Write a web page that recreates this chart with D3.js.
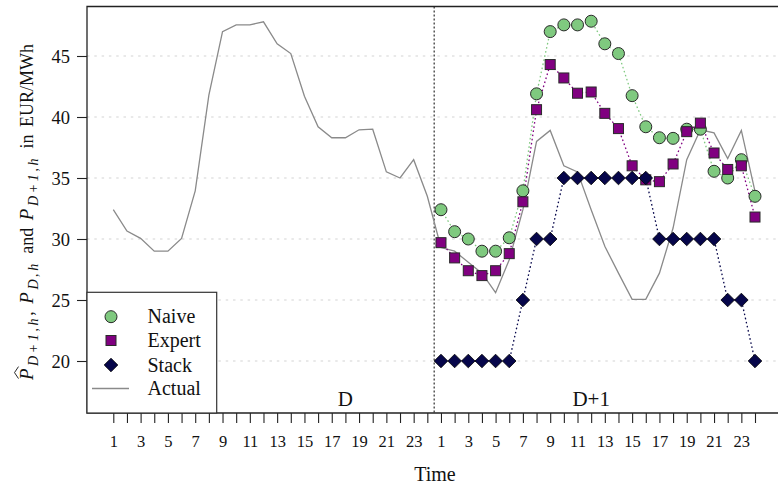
<!DOCTYPE html>
<html>
<head>
<meta charset="utf-8">
<script src="https://cdn.jsdelivr.net/npm/d3@7"></script>
<style>
  html, body { margin: 0; padding: 0; background: #fff; }
  svg { display: block; font-family: "Liberation Serif", "DejaVu Serif", serif; }
</style>
</head>
<body>
<svg id="chart" width="778" height="485"></svg>
<script>
// Hourly prices: day D actual, day D+1 actual and the three D+1 forecasts
const hoursPerDay = 24;
const actualD  = [32.4, 30.65, 30.05, 29.0, 29.0, 30.05, 33.95, 41.8, 47.0, 47.55, 47.55, 47.8,
                  46.0, 45.2, 41.7, 39.2, 38.3, 38.3, 38.95, 39.0, 35.5, 35.0, 36.5, 33.5];
const actualD1 = [29.3, 29.0, 28.1, 27.2, 25.6, 28.3, 32.4, 38.0, 38.9, 36.0, 35.5, 32.4,
                  29.4, 27.2, 25.05, 25.05, 27.2, 30.9, 36.5, 38.95, 38.7, 36.6, 38.9, 33.9];
const naive    = [32.4, 30.6, 30.0, 29.0, 29.0, 30.1, 33.95, 41.9, 47.0, 47.55, 47.55, 47.85,
                  46.0, 45.2, 41.75, 39.2, 38.3, 38.25, 39.0, 39.0, 35.55, 35.0, 36.5, 33.5];
const expert   = [29.7, 28.45, 27.4, 27.0, 27.4, 28.8, 33.05, 40.6, 44.3, 43.2, 41.95, 42.05,
                  40.3, 39.05, 36.0, 34.85, 34.7, 36.15, 38.8, 39.5, 37.05, 35.7, 36.0, 31.8];
const stack    = [20, 20, 20, 20, 20, 20, 25, 30, 30, 35, 35, 35,
                  35, 35, 35, 35, 30, 30, 30, 30, 30, 25, 25, 20];
const yTicks = [20, 25, 30, 35, 40, 45];
const dayLabels = ["D", "D+1"];
const seriesNames = ["Naive", "Expert", "Stack", "Actual"];

const colors = { naive: "#7fc97f", expert: "#800080", stack: "#06064a", actual: "#8a8a8a" };

const svg = d3.select("#chart");
const frame = { left: 87, right: 778, top: 6.5, bottom: 413 };

const x = d3.scaleLinear().domain([1, 48]).range([113.3, 755]);
const y = d3.scaleLinear().domain([20, 45]).range([361, 56]);

// horizontal dotted grid
svg.append("g").selectAll("line").data(yTicks).join("line")
  .attr("x1", frame.left).attr("x2", frame.right)
  .attr("y1", d => y(d)).attr("y2", d => y(d))
  .attr("stroke", "#d4d4d4").attr("stroke-width", 1.2)
  .attr("stroke-dasharray", "2.5,4.8");

// day boundary
svg.append("line")
  .attr("x1", x(24.5)).attr("x2", x(24.5))
  .attr("y1", frame.top).attr("y2", frame.bottom)
  .attr("stroke", "#000").attr("stroke-width", 1)
  .attr("stroke-dasharray", "2,2");

// frame lines (top, left, bottom)
svg.append("path")
  .attr("d", `M${frame.right},${frame.top}H${frame.left}V${frame.bottom}H${frame.right}`)
  .attr("fill", "none").attr("stroke", "#222").attr("stroke-width", 1.3);

// axes
const allHours = d3.range(1, 49);
const xAxis = d3.axisBottom(x)
  .tickValues(allHours)
  .tickSize(10).tickSizeOuter(0)
  .tickFormat(i => { const h = (i - 1) % hoursPerDay + 1; return h % 2 === 1 ? String(h) : ""; });
const gx = svg.append("g").attr("transform", `translate(0,${frame.bottom})`).call(xAxis);
gx.select(".domain").remove();
gx.selectAll(".tick line").attr("stroke", "#222").attr("stroke-width", 1.1);
gx.selectAll(".tick text").attr("y", 34).attr("dy", 0)
  .attr("font-size", 16.5).attr("font-family", "Liberation Serif, serif").attr("fill", "#111");

const yAxis = d3.axisLeft(y).tickValues(yTicks).tickSize(10).tickSizeOuter(0);
const gy = svg.append("g").attr("transform", `translate(${frame.left},0)`).call(yAxis);
gy.select(".domain").remove();
gy.selectAll(".tick line").attr("stroke", "#222").attr("stroke-width", 1.1);
gy.selectAll(".tick text").attr("x", -17).attr("dy", "0.34em")
  .attr("font-size", 18.5).attr("font-family", "Liberation Serif, serif").attr("fill", "#111");

// actual prices over both days
const actualAll = actualD.concat(actualD1).map((v, i) => ({ i: i + 1, v }));
const line = d3.line().x(d => x(d.i)).y(d => y(d.v));
svg.append("path").datum(actualAll)
  .attr("d", line).attr("fill", "none")
  .attr("stroke", colors.actual).attr("stroke-width", 1.3);

// forecasts for D+1
const toPts = arr => arr.map((v, k) => ({ i: hoursPerDay + k + 1, v }));
const series = [
  { key: "naive", pts: toPts(naive) },
  { key: "expert", pts: toPts(expert) },
  { key: "stack", pts: toPts(stack) }
];
series.forEach(s => {
  svg.append("path").datum(s.pts)
    .attr("d", line).attr("fill", "none")
    .attr("stroke", colors[s.key]).attr("stroke-width", 1.3)
    .attr("stroke-dasharray", "1.6,2.6");
});

const diamondPath = r => `M0,${-r}L${r},0L0,${r}L${-r},0Z`;
function marker(g, key) {
  if (key === "naive") {
    g.append("circle").attr("r", 6).attr("fill", colors.naive).attr("stroke", "#2a2a2a").attr("stroke-width", 1);
  } else if (key === "expert") {
    g.append("rect").attr("x", -5).attr("y", -5).attr("width", 10).attr("height", 10)
      .attr("fill", colors.expert).attr("stroke", "#2a2a2a").attr("stroke-width", 1);
  } else {
    g.append("path").attr("d", diamondPath(6.8)).attr("fill", colors.stack)
      .attr("stroke", "#000").attr("stroke-width", 0.8);
  }
}
series.forEach(s => {
  svg.append("g").selectAll("g").data(s.pts).join("g")
    .attr("transform", d => `translate(${x(d.i)},${y(d.v)})`)
    .each(function () { marker(d3.select(this), s.key); });
});

// day labels
svg.append("g").selectAll("text").data(dayLabels).join("text")
  .attr("x", (d, k) => x(18 + k * 18)).attr("y", 405.5)
  .attr("text-anchor", "middle").attr("font-size", 21).attr("fill", "#111")
  .text(d => d);

// x title
svg.append("text").attr("x", 435).attr("y", 481)
  .attr("text-anchor", "middle").attr("font-size", 20).attr("fill", "#111").text("Time");

// legend
const lg = svg.append("g");
lg.append("rect").attr("x", frame.left).attr("y", 292.3).attr("width", 129.7).attr("height", frame.bottom - 292.3)
  .attr("fill", "#fff").attr("stroke", "#333").attr("stroke-width", 1.2);
const legendY = [316.7, 340.5, 365, 388.5];
seriesNames.forEach((name, k) => {
  const g = lg.append("g").attr("transform", `translate(111,${legendY[k]})`);
  if (k < 3) marker(g, ["naive", "expert", "stack"][k]);
  else g.append("line").attr("x1", -19).attr("x2", 18).attr("stroke", colors.actual).attr("stroke-width", 1.6);
  lg.append("text").attr("x", 147.5).attr("y", legendY[k] + 6.5)
    .attr("font-size", 20).attr("fill", "#111").text(name);
});

// y title with math notation: upright words at natural spacing, math parts widened
const yt = svg.append("g").attr("transform", "translate(33,212) rotate(-90)");
const t = yt.append("text").attr("text-anchor", "middle").attr("font-size", 18)
  .attr("word-spacing", 3).attr("fill", "#111");
const parts = [
  ["P", "it"], ["D+1,h", "sub"], [", ", "rm"], ["P", "it"], ["D,h", "sub"], [" and ", "rm"],
  ["P", "it"], ["D+1,h", "sub"], [" in EUR/MWh", "rm"]
];
let lowered = false;
const mathSpans = [];
parts.forEach(([txt, kind]) => {
  const ts = t.append("tspan").text(txt);
  if (kind === "it") { ts.attr("font-style", "italic").attr("font-size", 19); mathSpans.push(ts); }
  if (kind === "sub") {
    ts.attr("font-size", 14).attr("font-style", "italic").attr("dy", 4.8);
    lowered = true;
    mathSpans.push(ts);
  } else if (lowered) {
    ts.attr("dy", -4.8);
    lowered = false;
  }
});
const targetLen = 350;
const natural = t.node().getComputedTextLength();
const mathChars = d3.sum(mathSpans, s => s.text().length);
const spacing = Math.max(0, Math.min(2.6, (targetLen - natural) / mathChars));
mathSpans.forEach(s => s.attr("letter-spacing", spacing));
// wide hat over the first P
const ext = t.node().getExtentOfChar(0);
const hx0 = ext.x + 1.5, hx1 = ext.x + 13.5, hy = ext.y + 2.5;
yt.append("path")
  .attr("d", `M${hx0},${hy}L${(hx0 + hx1) / 2},${hy - 4}L${hx1},${hy}`)
  .attr("fill", "none").attr("stroke", "#111").attr("stroke-width", 0.9);
</script>
</body>
</html>
